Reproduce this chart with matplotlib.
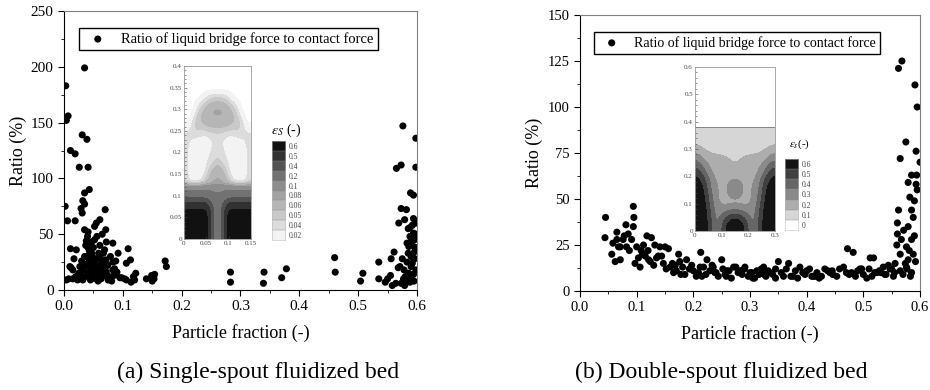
import numpy as np
import matplotlib
matplotlib.use("Agg")
import matplotlib.pyplot as plt
from matplotlib.colors import ListedColormap, BoundaryNorm
from matplotlib.ticker import MultipleLocator

plt.rcParams['font.family'] = ['Liberation Serif', 'DejaVu Serif']
plt.rcParams['mathtext.fontset'] = 'stix'

# (a) single-spout: particle fraction vs ratio (%)
a_x = [0.003, 0.007, 0.004, 0.035, 0.002, 0.006, 0.011, 0.019, 0.031, 0.039,
       0.026, 0.041, 0.043, 0.035, 0.032, 0.035, 0.029, 0.031, 0.019, 0.070,
       0.071, 0.055, 0.061, 0.052, 0.035, 0.041, 0.083, 0.072, 0.109, 0.011,
       0.021, 0.113, 0.106, 0.172, 0.174, 0.010, 0.015, 0.083, 0.086, 0.095,
       0.103, 0.114, 0.118, 0.122, 0.140, 0.149, 0.153, 0.150, 0.154, 0.283,
       0.283, 0.340, 0.339, 0.370, 0.378, 0.460, 0.461, 0.504, 0.508, 0.535,
       0.535, 0.546, 0.550, 0.555, 0.558, 0.564, 0.556, 0.561, 0.576, 0.598,
       0.565, 0.573, 0.598, 0.589, 0.594, 0.573, 0.582, 0.569, 0.579, 0.594,
       0.594, 0.591, 0.586, 0.594, 0.597, 0.575, 0.571, 0.578, 0.590, 0.580,
       0.588, 0.573, 0.579,
       0.585, 0.592, 0.598, 0.588, 0.596, 0.583, 0.592, 0.598, 0.585, 0.590,
       0.596, 0.583, 0.592, 0.586, 0.594, 0.598, 0.582, 0.595, 0.590, 0.577,
       0.568, 0.598, 0.588,
       0.004, 0.015, 0.027, 0.035, 0.041, 0.047, 0.055, 0.049, 0.041, 0.058,
       0.072, 0.083, 0.075, 0.032, 0.064, 0.069, 0.047, 0.098, 0.106, 0.120,
       0.008, 0.020, 0.025, 0.030, 0.033, 0.036, 0.038, 0.040, 0.042, 0.044,
       0.045, 0.046, 0.048, 0.050, 0.051, 0.053, 0.054, 0.057, 0.059, 0.060,
       0.062, 0.063, 0.066, 0.068, 0.071, 0.074, 0.077, 0.079, 0.081, 0.085,
       0.088, 0.090, 0.092, 0.038, 0.040, 0.043, 0.037, 0.052, 0.056, 0.061,
       0.065, 0.045, 0.050, 0.034, 0.028, 0.023, 0.012, 0.017, 0.067, 0.058]
a_y = [183, 156, 152, 199, 75, 62, 125, 122, 139, 135,
       110, 110, 90, 87, 80, 77, 73, 69, 62, 72,
       54, 60, 63, 57, 54, 52, 42, 43, 37, 37,
       36, 27, 24, 26, 21, 21, 18, 25, 19, 11,
       10, 7, 12, 15, 10, 13, 10, 8, 14, 16,
       7, 16, 6, 11, 19, 29, 16, 8, 15, 25,
       10, 7, 10, 13, 4, 6, 28, 34, 147, 136,
       109, 112, 110, 87, 85, 73, 72, 60, 63, 64,
       51, 45, 39, 33, 36, 28, 21, 18, 21, 12,
       7, 6, 4,
       55, 58, 60, 48, 45, 42, 40, 38, 33, 30,
       28, 25, 24, 15, 14, 18, 9, 8, 10, 10,
       20, 50, 56,
       9, 10, 21, 30, 38, 33, 28, 21, 15, 12,
       16, 18, 9, 9, 24, 36, 43, 11, 9, 9,
       10, 12, 15, 26, 18, 12, 44, 48, 25, 20,
       9, 14, 30, 38, 17, 24, 10, 20, 33, 15,
       28, 10, 19, 13, 27, 22, 12, 30, 8, 13,
       26, 16, 33, 30, 22, 35, 40, 45, 48, 40,
       50, 27, 12, 23, 14, 9, 20, 28, 33, 8]

# (b) double-spout
b_x = [0.045, 0.044, 0.065, 0.056, 0.062, 0.071, 0.081, 0.094, 0.095, 0.094,
       0.085, 0.091, 0.076, 0.065, 0.071, 0.082, 0.100, 0.112, 0.118, 0.126,
       0.132, 0.097, 0.106, 0.115, 0.121, 0.141, 0.150, 0.156, 0.138, 0.147,
       0.159, 0.165, 0.174, 0.176, 0.188, 0.213, 0.212, 0.200, 0.224, 0.235,
       0.250, 0.259, 0.271, 0.282, 0.291, 0.300, 0.312, 0.324, 0.335, 0.350,
       0.368, 0.359, 0.376, 0.388, 0.400, 0.412, 0.426, 0.432, 0.441, 0.453,
       0.465, 0.472, 0.482, 0.479, 0.494, 0.506, 0.512, 0.518, 0.524, 0.535,
       0.547, 0.553,
       0.568, 0.562, 0.591, 0.595, 0.575, 0.565, 0.593, 0.600, 0.579, 0.585,
       0.594, 0.593, 0.595, 0.582, 0.590, 0.585, 0.588, 0.562, 0.560, 0.560,
       0.571, 0.579, 0.559, 0.565, 0.576, 0.585, 0.588, 0.556, 0.565, 0.576,
       0.585, 0.579, 0.570, 0.574, 0.581, 0.590, 0.567, 0.583, 0.577, 0.592,
       0.087, 0.103, 0.110, 0.124, 0.130, 0.144, 0.152, 0.163, 0.170, 0.181,
       0.185, 0.193, 0.197, 0.205, 0.209, 0.218, 0.222, 0.229, 0.233, 0.240,
       0.244, 0.252, 0.256, 0.263, 0.267, 0.275, 0.279, 0.286, 0.290, 0.297,
       0.303, 0.308, 0.316, 0.320, 0.328, 0.332, 0.340, 0.345, 0.355, 0.364,
       0.372, 0.380, 0.384, 0.393, 0.397, 0.405, 0.409, 0.418, 0.422, 0.437,
       0.446, 0.458, 0.470, 0.486, 0.490, 0.500, 0.510, 0.515, 0.528, 0.531,
       0.540, 0.544, 0.550, 0.555, 0.120, 0.135, 0.168, 0.178, 0.195, 0.215,
       0.238, 0.258, 0.285, 0.305, 0.325, 0.345, 0.395, 0.415, 0.445, 0.475,
       0.497, 0.520, 0.538, 0.108, 0.078, 0.068, 0.058]
b_y = [40, 29, 32, 20, 16, 17, 36, 46, 40, 35,
       31, 28, 28, 28, 24, 24, 24, 25, 30, 29,
       25, 15, 13, 19, 17, 24, 24, 23, 19, 15,
       13, 10, 20, 16, 17, 21, 13, 11, 17, 13,
       17, 11, 13, 11, 13, 10, 11, 13, 10, 16,
       15, 8, 8, 13, 11, 8, 8, 12, 10, 8,
       13, 23, 21, 10, 12, 7, 18, 18, 10, 13,
       12, 8,
       125, 121, 112, 100, 81, 72, 76, 70, 59, 63,
       63, 58, 55, 51, 49, 44, 40, 44, 37, 31,
       33, 35, 25, 20, 24, 28, 20, 15, 11, 13,
       10, 17, 9, 15, 22, 30, 28, 8, 12, 16,
       22, 18, 20, 16, 14, 19, 12, 15, 11, 13,
       9, 12, 14, 8, 10, 13, 9, 11, 14, 10,
       8, 12, 9, 11, 7, 13, 10, 9, 12, 8,
       10, 7, 9, 12, 8, 11, 9, 7, 10, 12,
       8, 11, 7, 10, 9, 12, 8, 10, 7, 11,
       9, 12, 10, 8, 11, 9, 12, 8, 11, 10,
       9, 14, 12, 10, 22, 18, 14, 9, 12, 8,
       10, 8, 11, 7, 9, 12, 10, 8, 11, 9,
       12, 10, 9, 22, 30, 24, 26]

# inset (a): solid fraction, rows y = 0..0.4 step 0.02, half width (mirrored at x = 0.075)
a_field = [
    [0.65, 0.65, 0.65, 0.65, 0.65, 0.45, 0.30],
    [0.65, 0.65, 0.65, 0.65, 0.65, 0.45, 0.30],
    [0.65, 0.65, 0.65, 0.65, 0.65, 0.45, 0.30],
    [0.62, 0.62, 0.62, 0.62, 0.62, 0.45, 0.30],
    [0.52, 0.52, 0.52, 0.52, 0.50, 0.40, 0.30],
    [0.30, 0.30, 0.30, 0.30, 0.30, 0.25, 0.20],
    [0.055, 0.045, 0.045, 0.055, 0.065, 0.085, 0.09],
    [0.045, 0.03, 0.03, 0.035, 0.055, 0.07, 0.085],
    [0.045, 0.03, 0.03, 0.03, 0.045, 0.06, 0.07],
    [0.045, 0.03, 0.03, 0.03, 0.04, 0.045, 0.055],
    [0.045, 0.03, 0.03, 0.03, 0.035, 0.045, 0.045],
    [0.045, 0.035, 0.03, 0.03, 0.03, 0.04, 0.045],
    [0.045, 0.045, 0.045, 0.04, 0.04, 0.045, 0.045],
    [0.03, 0.045, 0.055, 0.055, 0.06, 0.062, 0.062],
    [0.01, 0.04, 0.055, 0.065, 0.07, 0.075, 0.075],
    [0.0, 0.02, 0.045, 0.06, 0.07, 0.085, 0.09],
    [0.0, 0.005, 0.035, 0.045, 0.055, 0.06, 0.06],
    [0.0, 0.0, 0.005, 0.02, 0.04, 0.045, 0.045],
    [0.0, 0.0, 0.0, 0.0, 0.0, 0.0, 0.0],
    [0.0, 0.0, 0.0, 0.0, 0.0, 0.0, 0.0],
    [0.0, 0.0, 0.0, 0.0, 0.0, 0.0, 0.0],
]
a_levels = [0.02, 0.04, 0.05, 0.06, 0.08, 0.1, 0.2, 0.4, 0.5, 0.6]
a_bounds = [0.02, 0.04, 0.05, 0.06, 0.08, 0.1, 0.2, 0.4, 0.5, 0.6, 1.0]
a_greys = ['#f3f3f3', '#dcdcdc', '#c9c9c9', '#b6b6b6', '#a2a2a2',
           '#8e8e8e', '#727272', '#525252', '#323232', '#111111']

# inset (b): rows y = 0..0.375 step 0.025 (bed surface at 0.38), half width
b_field = [
    [0.62, 0.62, 0.52, 0.3, 0.5, 0.62, 0.62],
    [0.62, 0.62, 0.5, 0.3, 0.45, 0.58, 0.62],
    [0.62, 0.62, 0.48, 0.3, 0.38, 0.45, 0.5],
    [0.62, 0.62, 0.45, 0.3, 0.28, 0.32, 0.32],
    [0.62, 0.6, 0.42, 0.28, 0.22, 0.22, 0.22],
    [0.62, 0.58, 0.4, 0.26, 0.22, 0.26, 0.3],
    [0.62, 0.56, 0.36, 0.26, 0.22, 0.27, 0.31],
    [0.6, 0.52, 0.35, 0.25, 0.22, 0.26, 0.3],
    [0.56, 0.45, 0.3, 0.22, 0.2, 0.21, 0.22],
    [0.48, 0.36, 0.26, 0.2, 0.2, 0.2, 0.2],
    [0.38, 0.3, 0.22, 0.2, 0.18, 0.15, 0.14],
    [0.3, 0.22, 0.18, 0.17, 0.16, 0.15, 0.15],
    [0.2, 0.16, 0.13, 0.12, 0.12, 0.12, 0.12],
    [0.14, 0.11, 0.1, 0.1, 0.1, 0.1, 0.1],
    [0.1, 0.1, 0.1, 0.1, 0.1, 0.1, 0.1],
    [0.1, 0.1, 0.1, 0.1, 0.1, 0.1, 0.1],
]
b_surface = 0.38
b_levels = [0, 0.1, 0.2, 0.3, 0.4, 0.5, 0.6]
b_bounds = [-1.0, 0.05, 0.15, 0.25, 0.35, 0.45, 0.55, 1.0]
b_greys = ['#ffffff', '#d6d6d6', '#adadad', '#8a8a8a', '#666666', '#404040', '#141414']


def main_axes(rect, x, y, ymax, ymaj, ymin_, fs):
    ax = fig.add_axes(rect)
    ax.scatter(x, y, s=26, c='black', edgecolors='none',
               label='Ratio of liquid bridge force to contact force', zorder=3)
    ax.set_xlim(0, 0.6)
    ax.set_ylim(0, ymax)
    ax.xaxis.set_major_locator(MultipleLocator(0.1))
    ax.xaxis.set_minor_locator(MultipleLocator(0.05))
    ax.yaxis.set_major_locator(MultipleLocator(ymaj))
    ax.yaxis.set_minor_locator(MultipleLocator(ymin_))
    ax.xaxis.set_major_formatter(plt.FuncFormatter(lambda v, p: f'{v:.1f}'))
    ax.tick_params(which='both', direction='out', top=False, right=False, labelsize=fs)
    ax.tick_params(which='major', length=4)
    ax.tick_params(which='minor', length=2.5)
    for s in ['top', 'right']:
        ax.spines[s].set_color('#808080')
    ax.set_ylabel('Ratio (%)', fontsize=13, labelpad=3)
    ax.set_xlabel('Particle fraction (-)', fontsize=13, labelpad=8)
    return ax


def fmt(v):
    return '0' if v == 0 else f'{v:g}'


def inset(rect, field, width, ytop, bounds, greys, xt, yt):
    ax = fig.add_axes(rect)
    zz = np.array([row + row[-2::-1] for row in field])
    cmap = ListedColormap(greys)
    cmap.set_under('white')
    norm = BoundaryNorm(bounds, cmap.N)
    ax.imshow(zz, origin='lower', extent=(0, width, 0, ytop), aspect='auto',
              cmap=cmap, norm=norm, interpolation='bicubic', interpolation_stage='data')
    ax.set_xlim(0, width)
    ax.set_ylim(yt[0], yt[-1])
    ax.set_xticks(xt)
    ax.set_yticks(yt)
    ax.set_xticklabels([fmt(v) for v in xt])
    ax.set_yticklabels([fmt(v) for v in yt])
    ax.yaxis.set_minor_locator(MultipleLocator((yt[1] - yt[0]) / 5))
    ax.tick_params(which='both', direction='in', labelsize=5, length=2, width=0.4,
                   pad=1.5, colors='#444444')
    ax.tick_params(which='minor', length=1.2)
    for s in ax.spines.values():
        s.set_color('#999999')
        s.set_linewidth(0.6)
    return ax


def colorbar(rect, greys, labels, title, title_xy, title_fs):
    ax = fig.add_axes(rect)
    n = len(greys)
    ax.imshow(np.arange(n).reshape(n, 1), cmap=ListedColormap(greys), origin='lower',
              aspect='auto', extent=(0, 1, 0, n))
    for k in range(1, n):
        ax.axhline(k, color='#888888', lw=0.3)
    ax.set_xticks([])
    ax.set_yticks(np.arange(n) + 0.5)
    ax.set_yticklabels(labels)
    ax.yaxis.tick_right()
    ax.tick_params(length=0, labelsize=5.5, pad=3, colors='#444444')
    for s in ax.spines.values():
        s.set_color('#bbbbbb')
        s.set_linewidth(0.4)
    fig.text(title_xy[0], title_xy[1], title, fontsize=title_fs, ha='left', va='center')


fig = plt.figure(figsize=(9.3, 3.9), dpi=100)

ax1 = main_axes([0.0688, 0.2564, 0.3796, 0.7154], a_x, a_y, 250, 50, 25, 11)
ax1.legend(loc='upper left', bbox_to_anchor=(0.042, 0.94), borderaxespad=0,
           fontsize=10.5, frameon=True, fancybox=False, edgecolor='black',
           handletextpad=0.6, borderpad=0.3, framealpha=1)
ax2 = main_axes([0.6237, 0.2538, 0.3656, 0.7077], b_x, b_y, 150, 25, 12.5, 10.5)
ax2.legend(loc='upper left', bbox_to_anchor=(0.04, 0.94), borderaxespad=0,
           fontsize=10, frameon=True, fancybox=False, edgecolor='black',
           handletextpad=0.6, borderpad=0.3, framealpha=1)

inset([0.1978, 0.3872, 0.072, 0.4436], a_field, 0.15, 0.4, a_bounds, a_greys,
      [0, 0.05, 0.1, 0.15], [0, 0.05, 0.1, 0.15, 0.2, 0.25, 0.3, 0.35, 0.4])
colorbar([0.2925, 0.3846, 0.014, 0.2538], a_greys,
         [f'{v:g}' for v in a_levels], r'$\varepsilon_S$ (-)', (0.2915, 0.665), 10)

axb = inset([0.7473, 0.4077, 0.086, 0.4205], b_field, 0.3, b_surface, b_bounds, b_greys,
            [0, 0.1, 0.2, 0.3], [0, 0.1, 0.2, 0.3, 0.4, 0.5, 0.6])
axb.axhline(b_surface, color='#777777', lw=0.6)
colorbar([0.8441, 0.4103, 0.014, 0.182], b_greys,
         [f'{v:g}' for v in b_levels], r'$\varepsilon_s$(-)', (0.848, 0.631), 8)

fig.text(0.278, 0.045, '(a) Single-spout fluidized bed', fontsize=17, ha='center', va='center')
fig.text(0.775, 0.045, '(b) Double-spout fluidized bed', fontsize=17, ha='center', va='center')

fig.savefig('out.png', dpi=100)
